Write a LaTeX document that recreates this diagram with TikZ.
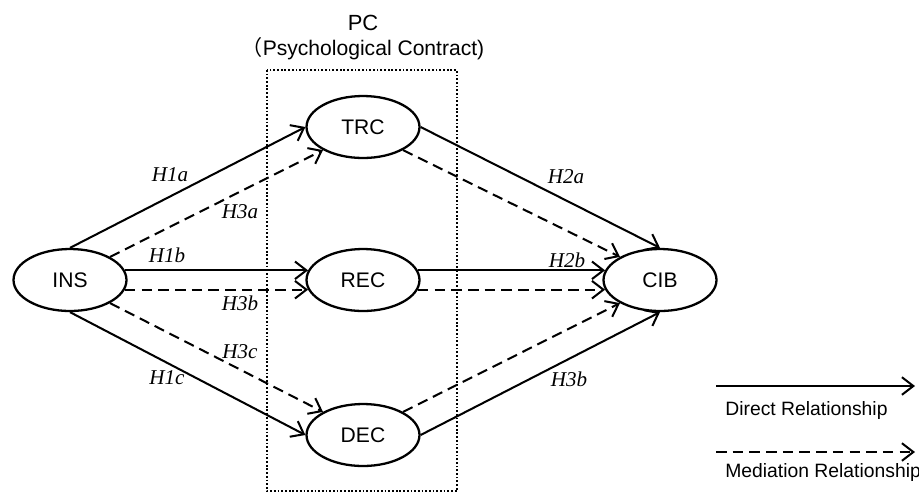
\documentclass[tikz,border=0pt]{standalone}
\usepackage{fontspec}
\setmainfont{Liberation Sans}
\newfontfamily\hypfont{Liberation Serif}
\newfontfamily\cjk{Noto Sans CJK SC}
\usetikzlibrary{shapes.geometric,arrows.meta}
\begin{document}
\begin{tikzpicture}[x=0.02cm,y=-0.02cm,
    construct/.style={ellipse,draw,line width=1.3pt,minimum width=2.26cm,
      minimum height=1.24cm,inner sep=0pt,font=\fontsize{12}{14}\selectfont},
    direct/.style={line width=1.15pt,-{Straight Barb[length=6.5pt,width=10pt]}},
    mediate/.style={direct,dash pattern=on 6pt off 3.5pt},
    hyp/.style={font=\hypfont\itshape\fontsize{12}{14}\selectfont},
    legend/.style={anchor=west,inner sep=0pt,font=\fontsize{11}{13}\selectfont}]
    \useasboundingbox (0,0) rectangle (919,491);
    % psychological contract box
    \draw[line width=1pt,dash pattern=on 1pt off 1.1pt] (267,70) rectangle (457,491);
    \node (pc) at (363,23) [font=\fontsize{12.5}{14}\selectfont] {PC};
    \node (pcname) at (363,49) [font=\fontsize{12}{14}\selectfont]
    {{\cjk （}Psychological Contract)};
    % constructs
    \node (ins) at (70,280) [construct] {INS}; \node (trc) at (363,127)
    [construct] {TRC}; \node (rec) at (363,280) [construct] {REC};
    \node (dec) at (363,435) [construct] {DEC};
    \node (cib) at (660,280) [construct] {CIB};
    \draw[direct] (ins.north) -- (trc.west); \draw[mediate] (ins.30) -- (trc.210);
    \draw[direct] (ins.10) -- (rec.170); \draw[mediate] (ins.-10) -- (rec.190);
    \draw[mediate] (ins.-30) -- (dec.150); \draw[direct] (ins.south) -- (dec.west);
    \draw[direct] (trc.east) -- (cib.north); \draw[mediate] (trc.-30) -- (cib.150);
    \draw[direct] (rec.10) -- (cib.170); \draw[mediate] (rec.-10) -- (cib.190);
    \draw[mediate] (dec.30) -- (cib.210); \draw[direct] (dec.east) -- (cib.south);
    % hypotheses
    \node (h1a) at (170,175) [hyp] {H1a}; \node (h3a) at (240,212) [hyp] {H3a};
    \node (h1b) at (167,255) [hyp] {H1b}; \node (h3b) at (240,303) [hyp] {H3b};
    \node (h3c) at (240,352) [hyp] {H3c}; \node (h1c) at (167,378) [hyp] {H1c};
    \node (h2a) at (566,177) [hyp] {H2a}; \node (h2b) at (567,260) [hyp] {H2b};
    \node (h3d) at (569,379) [hyp] {H3b};
    % legend
    \coordinate (ds) at (716,386); \coordinate (de) at (915,386);
    \coordinate (ms) at (716,452); \coordinate (me) at (915,452);
    \draw[direct] (ds) -- (de); \draw[mediate] (ms) -- (me);
    \node (dtext) at (725,410) [legend] {Direct Relationship};
    \node (mtext) at (725,472) [legend] {Mediation Relationship};
\end{tikzpicture}
\end{document}
